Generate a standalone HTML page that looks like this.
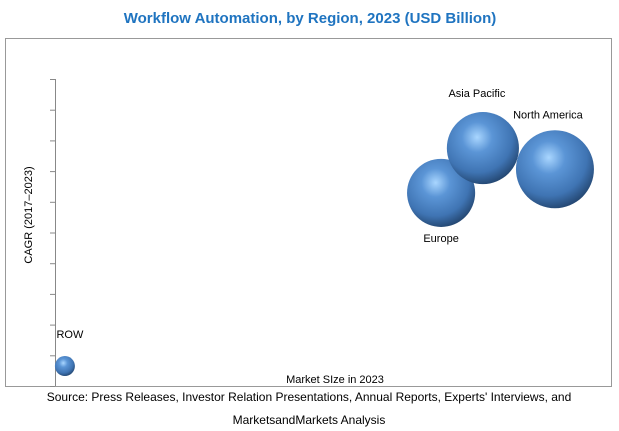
<!DOCTYPE html>
<html><head><meta charset="utf-8"><style>
body{margin:0;background:#fff;}
svg{display:block;font-family:"Liberation Sans",sans-serif;}
</style></head><body>
<svg width="619" height="431" id="chart">
<defs>
<radialGradient id="ball" cx="0.42" cy="0.35" r="0.7">
<stop offset="0" stop-color="#a9d6ff"/>
<stop offset="0.3" stop-color="#5b95d6"/>
<stop offset="0.7" stop-color="#3f74b3"/>
<stop offset="1" stop-color="#1f3f66"/>
</radialGradient>
</defs>
<text x="310" y="23" text-anchor="middle" font-size="15" font-weight="bold" fill="#1f74c0">Workflow Automation, by Region, 2023 (USD Billion)</text>
<rect x="5.5" y="38.5" width="606" height="348" fill="none" stroke="#999"/>
<line x1="55.5" y1="79" x2="55.5" y2="386" stroke="#888"/>
<g id="ticks"></g>
<text transform="translate(32,215) rotate(-90)" text-anchor="middle" font-size="11" fill="#000">CAGR (2017–2023)</text>
<text x="335" y="383" text-anchor="middle" font-size="11" fill="#000">Market SIze in 2023</text>
<g id="bubbles"></g>
<text x="309" y="401" text-anchor="middle" font-size="12" fill="#000">Source: Press Releases, Investor Relation Presentations, Annual Reports, Experts' Interviews, and</text>
<text x="309" y="424" text-anchor="middle" font-size="12" fill="#000">MarketsandMarkets Analysis</text>
</svg>
<script>
const regions=["Europe","Asia Pacific","North America","ROW"];
const marketSize=[70.2,77.8,90.9,1.8];
const cagr=[6.29,7.75,7.06,0.65];
const bubbleSize=[11.6,13,15.2,1];
const labelDx=[0,-6,-7,5];
const labelDy=[49,-51,-51,-28];
const ns="http://www.w3.org/2000/svg";
const xs=v=>55+v*5.5, ys=v=>386-v*30.7, rs=v=>10*Math.sqrt(v);
const tg=document.getElementById('ticks');
for(let i=0;i<=10;i++){const l=document.createElementNS(ns,'line');
l.setAttribute('x1',50);l.setAttribute('x2',55);l.setAttribute('y1',ys(i)+0.5);l.setAttribute('y2',ys(i)+0.5);l.setAttribute('stroke','#888');


tg.appendChild(l);}
const bg=document.getElementById('bubbles');
regions.forEach((r,i)=>{
const c=document.createElementNS(ns,'circle');
c.setAttribute('cx',xs(marketSize[i]));c.setAttribute('cy',ys(cagr[i]));c.setAttribute('r',rs(bubbleSize[i]));c.setAttribute('fill','url(#ball)');


bg.appendChild(c);
const t=document.createElementNS(ns,'text');
t.setAttribute('x',xs(marketSize[i])+labelDx[i]);t.setAttribute('y',ys(cagr[i])+labelDy[i]);t.setAttribute('text-anchor','middle');t.setAttribute('font-size','11');
t.textContent=r;


bg.appendChild(t);
});
</script>
</body></html>
